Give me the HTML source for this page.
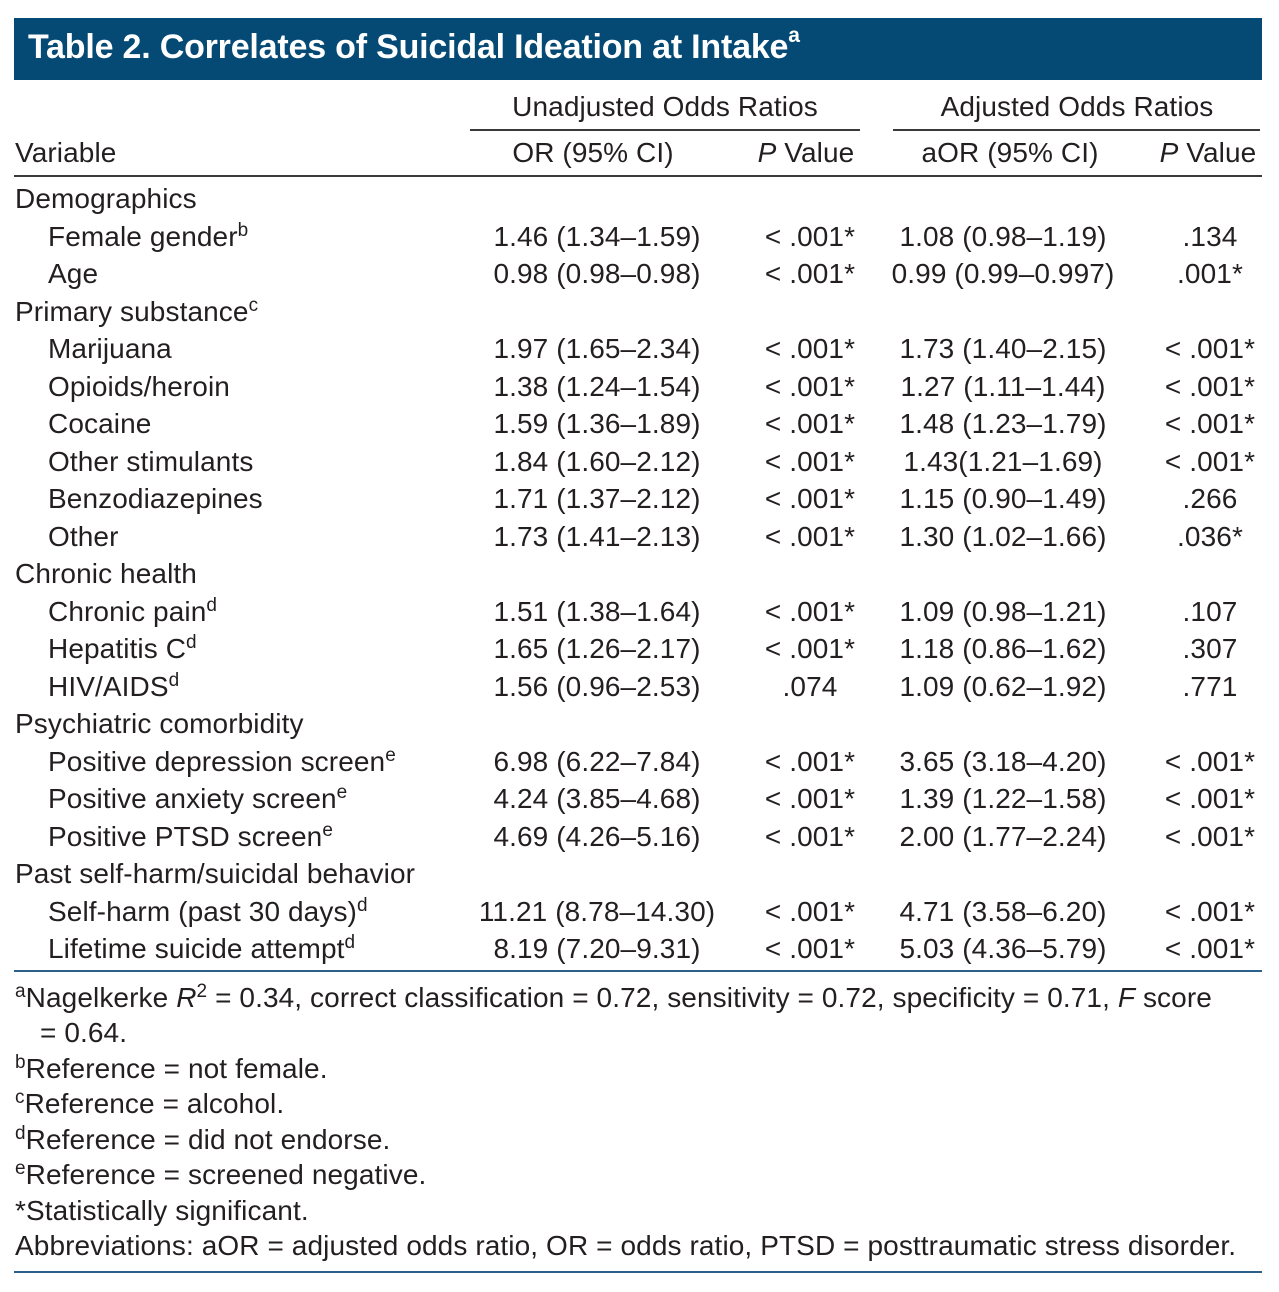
<!DOCTYPE html>
<html><head><meta charset="utf-8">
<style>
body{margin:0;width:1279px;height:1292px;background:#fff;position:relative;overflow:hidden;font-family:"Liberation Sans",sans-serif;color:#231f20;}
.t{position:absolute;font-size:28px;letter-spacing:0.1px;white-space:nowrap;line-height:30px;}
.c{transform:translateX(-50%);}
sup{font-size:19px;vertical-align:top;position:relative;top:-6px;}
.ln{position:absolute;height:2px;background:#3a3a3a;}
.bl{position:absolute;height:2px;background:#2b5f8c;}
#hdr{position:absolute;left:14px;top:18px;width:1248px;height:62px;background:#054a74;}
#title{position:absolute;left:14px;top:10px;color:#fff;font-weight:bold;font-size:34px;letter-spacing:-0.2px;white-space:nowrap;}
#title sup{font-size:21px;top:-4px;}
</style></head><body>
<div id="hdr"><div id="title">Table 2. Correlates of Suicidal Ideation at Intake<sup>a</sup></div></div>
<div class="t c" style="left:665px;top:92px">Unadjusted Odds Ratios</div>
<div class="t c" style="left:1077px;top:92px">Adjusted Odds Ratios</div>
<div class="ln" style="left:470px;top:129px;width:390px"></div>
<div class="ln" style="left:893px;top:129px;width:367px"></div>
<div class="t" style="left:15px;top:138px">Variable</div>
<div class="t c" style="left:593px;top:138px">OR (95% CI)</div>
<div class="t c" style="left:806px;top:138px"><i>P</i> Value</div>
<div class="t c" style="left:1010px;top:138px">aOR (95% CI)</div>
<div class="t c" style="left:1208px;top:138px"><i>P</i> Value</div>
<div class="ln" style="left:14px;top:175px;width:1248px"></div>
<div id="rows"></div>
<div class="bl" style="left:14px;top:970px;width:1248px"></div>
<div class="t" style="left:15px;top:983px"><sup>a</sup>Nagelkerke <i>R</i><sup>2</sup> = 0.34, correct classification = 0.72, sensitivity = 0.72, specificity = 0.71, <i>F</i> score</div>
<div class="t" style="left:40px;top:1018px">= 0.64.</div>
<div class="t" style="left:15px;top:1054px"><sup>b</sup>Reference = not female.</div>
<div class="t" style="left:15px;top:1089px"><sup>c</sup>Reference = alcohol.</div>
<div class="t" style="left:15px;top:1125px"><sup>d</sup>Reference = did not endorse.</div>
<div class="t" style="left:15px;top:1160px"><sup>e</sup>Reference = screened negative.</div>
<div class="t" style="left:15px;top:1196px">*Statistically significant.</div>
<div class="t" style="left:15px;top:1231px">Abbreviations: aOR = adjusted odds ratio, OR = odds ratio, PTSD = posttraumatic stress disorder.</div>
<div class="bl" style="left:14px;top:1271px;width:1248px"></div>
<script>
const labels=["Demographics","Female gender<sup>b</sup>","Age","Primary substance<sup>c</sup>","Marijuana","Opioids/heroin","Cocaine","Other stimulants","Benzodiazepines","Other","Chronic health","Chronic pain<sup>d</sup>","Hepatitis C<sup>d</sup>","HIV/AIDS<sup>d</sup>","Psychiatric comorbidity","Positive depression screen<sup>e</sup>","Positive anxiety screen<sup>e</sup>","Positive PTSD screen<sup>e</sup>","Past self-harm/suicidal behavior","Self-harm (past 30 days)<sup>d</sup>","Lifetime suicide attempt<sup>d</sup>"];
const orVals=["","1.46 (1.34–1.59)","0.98 (0.98–0.98)","","1.97 (1.65–2.34)","1.38 (1.24–1.54)","1.59 (1.36–1.89)","1.84 (1.60–2.12)","1.71 (1.37–2.12)","1.73 (1.41–2.13)","","1.51 (1.38–1.64)","1.65 (1.26–2.17)","1.56 (0.96–2.53)","","6.98 (6.22–7.84)","4.24 (3.85–4.68)","4.69 (4.26–5.16)","","11.21 (8.78–14.30)","8.19 (7.20–9.31)"];
const pVals=["","<.001*","<.001*","","<.001*","<.001*","<.001*","<.001*","<.001*","<.001*","","<.001*","<.001*",".074","","<.001*","<.001*","<.001*","","<.001*","<.001*"];
const aorVals=["","1.08 (0.98–1.19)","0.99 (0.99–0.997)","","1.73 (1.40–2.15)","1.27 (1.11–1.44)","1.48 (1.23–1.79)","1.43(1.21–1.69)","1.15 (0.90–1.49)","1.30 (1.02–1.66)","","1.09 (0.98–1.21)","1.18 (0.86–1.62)","1.09 (0.62–1.92)","","3.65 (3.18–4.20)","1.39 (1.22–1.58)","2.00 (1.77–2.24)","","4.71 (3.58–6.20)","5.03 (4.36–5.79)"];
const p2Vals=["",".134",".001*","","<.001*","<.001*","<.001*","<.001*",".266",".036*","",".107",".307",".771","","<.001*","<.001*","<.001*","","<.001*","<.001*"];
const rows=document.getElementById('rows');
function cell(html,left,top,center,name){
  const d=document.createElement('div');
  d.className='t'+(center?' c':'');
  d.style.left=left+'px';d.style.top=top+'px';
  d.innerHTML=html;
  
  
  rows.appendChild(d);
}
labels.forEach((l,i)=>{
  const top=184+i*37.5;
  const isHead=orVals[i]==="";
  cell(l,isHead?15:48,top,false,isHead?'section-label':'row-label');
  if(!isHead){
    cell(orVals[i],597,top,true,'or-value');
    cell(pVals[i].replace('<','&lt; '),810,top,true,'p-value');
    cell(aorVals[i],1003,top,true,'aor-value');
    cell(p2Vals[i].replace('<','&lt; '),1210,top,true,'adjusted-p-value');
  }
});
</script>
</body></html>
